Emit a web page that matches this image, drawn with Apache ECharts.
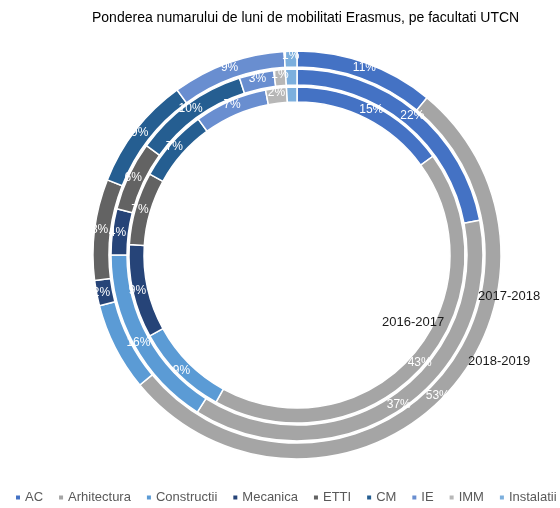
<!DOCTYPE html>
<html>
<head>
<meta charset="utf-8" />
<title>Mobilitati Erasmus</title>
<script src="https://cdn.jsdelivr.net/npm/echarts@6/dist/echarts.min.js"></script>
<style>
  html, body { margin: 0; padding: 0; background: #fff; }
  #main { width: 560px; height: 508px; }
</style>
</head>
<body>
<div id="main"></div>
<script>
// facultati
var facultati = ['AC', 'Arhitectura', 'Constructii', 'Mecanica', 'ETTI', 'CM', 'IE', 'IMM', 'Instalatii'];
// procente pe ani (inel interior -> exterior)
var an2016 = [15, 43, 9, 9, 7, 7, 7, 2, 1];
var an2017 = [22, 37, 16, 4, 6, 10, 3, 1, 1];
var an2018 = [11, 53, 7, 2, 8, 9, 9, 0, 1];
var ani = ['2016-2017', '2017-2018', '2018-2019'];

var culori = ['#4472C4', '#A5A5A5', '#5B9BD5', '#264478', '#636363', '#255E91', '#698ED0', '#B7B7B7', '#7CAFDD'];
var font = "'Liberation Sans', Arial, sans-serif";

function date(valori) {
	return facultati.map(function (f, i) {
		return { name: f, value: valori[i] };
	});
}

function inel(nume, valori, raze) {
	return {
		name: nume,
		type: 'pie',
		center: [297, 255],
		radius: raze,
		startAngle: 90,
		clockwise: true,
		avoidLabelOverlap: false,
		silent: true,
		z: 2,
		itemStyle: { borderColor: '#fff', borderWidth: 1.5 },
		label: {
			show: true,
			position: 'inside',
			color: '#fff',
			fontSize: 12,
			fontFamily: font,
			formatter: function (p) { return p.value > 0 ? p.value + '%' : ''; }
		},
		labelLine: { show: false },
		emphasis: { disabled: true },
		data: date(valori)
	};
}

// eticheta anului, deasupra inelelor
function eticheta(text, x, y) {
	return {
		type: 'text', left: x, top: y, z: 100, zlevel: 1,
		style: { text: text, fill: '#1a1a1a', font: '13px ' + font }
	};
}

var chart = echarts.init(document.getElementById('main'));

var option = {
	animation: false,
	color: culori,
	title: {
		text: 'Ponderea numarului de luni de mobilitati Erasmus, pe facultati UTCN',
		left: 87,
		top: 6,
		textStyle: { fontSize: 14, fontWeight: 'normal', color: '#000', fontFamily: font }
	},
	legend: {
		data: facultati,
		top: 491,
		left: 14,
		width: 556,
		padding: 0,
		icon: 'rect',
		itemWidth: 6,
		itemHeight: 6,
		itemGap: 14,
		textStyle: { fontSize: 13, color: '#595959', fontFamily: font, padding: [0, 0, 0, -1] }
	},
	graphic: [
		eticheta(ani[0], 382, 316),
		eticheta(ani[1], 478, 290),
		eticheta(ani[2], 468, 355)
	],
	series: [
		inel(ani[0], an2016, [153, 168]),
		inel(ani[1], an2017, [170, 186]),
		inel(ani[2], an2018, [188, 204])
	]
};

chart.setOption(option);
</script>
</body>
</html>
